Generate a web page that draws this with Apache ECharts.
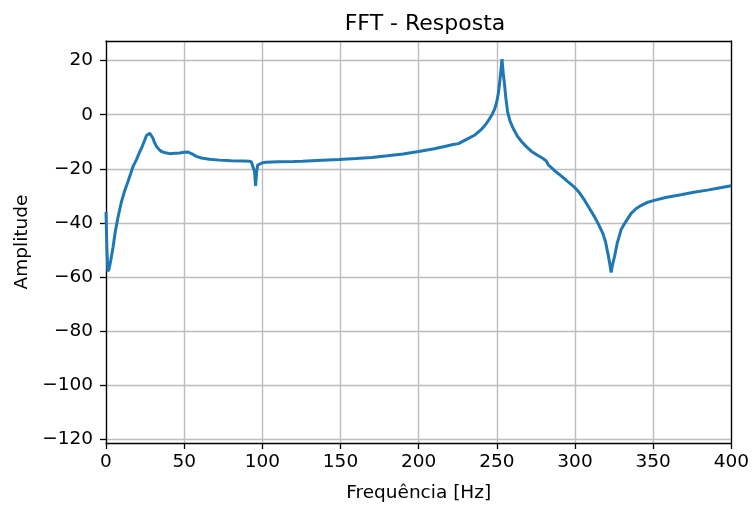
<!DOCTYPE html>
<html>
<head>
<meta charset="utf-8">
<script src="https://cdn.jsdelivr.net/npm/echarts@6/dist/echarts.min.js"></script>
<style>html,body{margin:0;padding:0;background:#fff}#c{width:752px;height:508px}</style>
</head>
<body>
<div id="c"></div>
<script>
const titleText = 'FFT - Resposta';
const xName = 'Frequência [Hz]';
const yName = 'Amplitude';
const xTicks = [0, 50, 100, 150, 200, 250, 300, 350, 400];
const yTicks = [-120, -100, -80, -60, -40, -20, 0, 20];
const freq = [0,0.6,1.2,2,3,4.5,6,8,10,12,14.2,17.4,19.5,21,22.7,24.5,25.9,27,28,29,30.1,31,32.3,34,35.5,38,40.8,44,47.1,50,52.4,55,57.8,61,66.2,72.6,80,88,91.7,93,94,95,95.7,96.4,97,97.7,100,102.3,110,120,125.7,135,149,160,170,180,190,200,210,218,222,225.5,230,236,240,242.5,245,246.7,248.5,249.9,251,252,252.7,253.3,253.8,254.3,254.8,255.8,256.9,258.5,260.5,263,265.8,269,272.2,276,279.6,281.7,283,284.9,288,291.3,295,299.8,303,306.2,309,312.5,315,317.8,319.5,321,322.2,323.1,324,325.3,327,329.5,332,335.9,339,342.2,346,350.7,358,367.7,376,384.7,392,400];
const amp = [-36,-50,-58,-57,-54,-49,-43,-37,-32,-28,-24.5,-19,-16.6,-14.5,-12.4,-9.8,-7.7,-7,-6.9,-7.4,-8.7,-10.3,-11.7,-12.9,-13.6,-14.1,-14.4,-14.3,-14.2,-13.9,-13.8,-14.5,-15.4,-16,-16.5,-16.8,-17,-17.1,-17.2,-17.5,-18.2,-21,-26.3,-21,-18.6,-18.2,-17.8,-17.6,-17.4,-17.3,-17.2,-16.9,-16.6,-16.2,-15.8,-15.2,-14.5,-13.6,-12.6,-11.6,-11,-10.7,-9.3,-7.5,-5.5,-3.9,-1.8,-0.2,2,4.6,8,13,17,20.6,17,14.2,11.9,6,1,-2.5,-5.1,-7.8,-9.9,-11.9,-13.6,-15,-16.2,-17.2,-18.6,-19.6,-21.2,-22.7,-24.6,-26.9,-29,-31.7,-34.4,-37.8,-40.5,-43.9,-47,-51.2,-55,-58.4,-55.5,-52.4,-47.5,-42.5,-40,-36.5,-34.8,-33.6,-32.5,-31.7,-30.6,-29.6,-28.7,-27.9,-27.1,-26.3];

const font = 'DejaVu Sans';
const data = freq.map((f, i) => [f, amp[i]]);
const chart = echarts.init(document.getElementById('c'), null, {renderer: 'canvas'});
chart.setOption({
  animation: false,
  backgroundColor: '#fff',
  title: {
    text: titleText, left: 420, top: 8, textAlign: 'center',
    textStyle: {fontFamily: font, fontSize: 22, fontWeight: 'normal', color: '#000'}
  },
  grid: {left: 106, right: 18, top: 41, bottom: 58, containLabel: false},
  xAxis: [{
    type: 'value', min: 0, max: 400, interval: 50, position: 'bottom',
    name: xName, nameLocation: 'middle', nameGap: 41,
    nameTextStyle: {fontFamily: font, fontSize: 18.5, color: '#000'},
    axisLine: {show: true, onZero: false, lineStyle: {color: '#000', width: 1.3}},
    axisTick: {show: true, inside: false, length: 6, lineStyle: {color: '#000', width: 1.3}},
    axisLabel: {show: true, margin: 10, fontFamily: font, fontSize: 18.5, color: '#000', customValues: xTicks},
    splitLine: {show: true, lineStyle: {color: '#bdbdbd', width: 1.4}}
  }, {
    type: 'value', min: 0, max: 400, position: 'top',
    axisLine: {show: true, onZero: false, lineStyle: {color: '#000', width: 1.3}},
    axisTick: {show: false}, axisLabel: {show: false}, splitLine: {show: false}
  }],
  yAxis: [{
    type: 'value', min: -121.45, max: 27.27, splitNumber: 7, position: 'left',
    name: yName, nameLocation: 'middle', nameGap: 74, nameRotate: 90,
    nameTextStyle: {fontFamily: font, fontSize: 18.5, color: '#000'},
    axisLine: {show: true, onZero: false, lineStyle: {color: '#000', width: 1.3}},
    axisTick: {show: true, inside: false, length: 6, lineStyle: {color: '#000', width: 1.3}, customValues: yTicks},
    axisLabel: {show: true, margin: 13, fontFamily: font, fontSize: 18.5, color: '#000', customValues: yTicks,
      formatter: v => String(v).replace('-', '\u2212')},
    splitLine: {show: true, lineStyle: {color: '#bdbdbd', width: 1.4}}
  }, {
    type: 'value', min: -121.45, max: 27.27, position: 'right',
    axisLine: {show: true, onZero: false, lineStyle: {color: '#000', width: 1.3}},
    axisTick: {show: false}, axisLabel: {show: false}, splitLine: {show: false}
  }],
  series: [{
    type: 'line', xAxisIndex: 0, yAxisIndex: 0, data: data,
    showSymbol: false, symbol: 'none', smooth: false, clip: true,
    lineStyle: {color: '#1f77b4', width: 3}
  }]
});
</script>
</body>
</html>
